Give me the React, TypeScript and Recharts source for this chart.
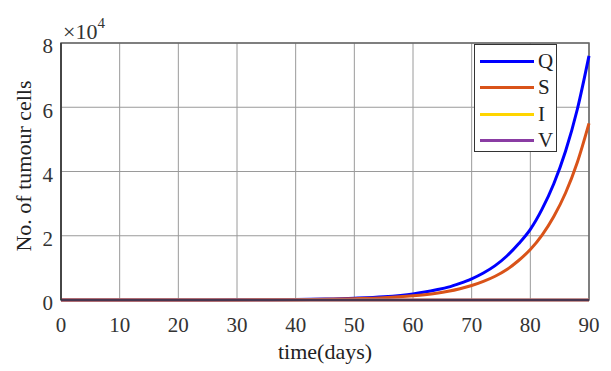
import { LineChart, Line, XAxis, YAxis, CartesianGrid, ReferenceArea } from "recharts";

const days = [0, 5, 10, 15, 20, 25, 30, 35, 40, 45, 50, 55, 60, 62, 64, 66, 68, 70, 72, 74, 76, 78, 80, 82, 84, 86, 88, 90];
const qCells = [1, 2, 4, 7, 12, 22, 45, 90, 160, 300, 560, 1000, 1900, 2500, 3200, 4000, 5200, 6600, 8400, 10700, 13700, 17500, 22000, 28300, 36200, 46300, 59300, 76000];
const sCells = [1, 1, 2, 4, 7, 13, 25, 55, 110, 200, 400, 700, 1300, 1650, 2100, 2700, 3500, 4500, 5800, 7400, 9500, 12300, 15700, 20200, 26000, 33300, 42800, 55000];
const iCells = days.map(() => 0);
const vCells = days.map(() => 0);

const xTicks = [0, 10, 20, 30, 40, 50, 60, 70, 80, 90];
const yTicks = [0, 20000, 40000, 60000, 80000];

const series = [
  { key: "Q", color: "#0000ff" },
  { key: "S", color: "#d95319" },
  { key: "I", color: "#ffd500" },
  { key: "V", color: "#8a3ca3" },
];

const data = days.map((t, i) => ({ t, Q: qCells[i], S: sCells[i], I: iCells[i], V: vCells[i] }));

const font = "'Liberation Serif', 'Times New Roman', serif";
const tickStyle = { fill: "#333", fontSize: 21, fontFamily: font };

// legend drawn outside the chart so it doesn't eat plot space
const LegendBox = () => (
  <div style={{ position: "absolute", top: 44, left: 474, width: 83, height: 108, border: "1.5px solid #333", background: "#fff", paddingTop: 3, boxSizing: "border-box" }}>
    {series.map((s) => (
      <div key={s.key} style={{ display: "flex", alignItems: "center", height: 26.5 }}>
        <div style={{ width: 54, height: 3, background: s.color, marginLeft: 5, marginRight: 4 }} />
        <span style={{ fontFamily: font, fontSize: 21, color: "#222", lineHeight: 1 }}>{s.key}</span>
      </div>
    ))}
  </div>
);

const YLabel = () => (
  <text x={23} y={166} transform="rotate(-90 23 166)" textAnchor="middle" dominantBaseline="central" fontFamily={font} fontSize={22} fill="#222">
    No. of tumour cells
  </text>
);

const App = () => {
  return (
    <div style={{ position: "absolute", top: 0, left: 0, width: 611, height: 371, background: "#fff" }}>
      <LineChart width={611} height={371} data={data} margin={{ top: 43, right: 22, bottom: 0, left: 0 }}>
        <CartesianGrid stroke="#9a9a9a" strokeWidth={1} />
        <ReferenceArea x1={0} x2={90} y1={0} y2={80000} fill="none" stroke="#666" strokeWidth={1.5} />
        <XAxis
          dataKey="t"
          type="number"
          domain={[0, 90]}
          ticks={xTicks}
          height={71}
          tickSize={6}
          tickLine={false}
          tickMargin={11}
          axisLine={{ stroke: "#333", strokeWidth: 1.5 }}
          tick={tickStyle}
          label={{ value: "time(days)", position: "insideBottom", offset: 12, fontFamily: font, fontSize: 22, fill: "#222" }}
        />
        <YAxis
          type="number"
          domain={[0, 80000]}
          ticks={yTicks}
          width={61}
          tickSize={0}
          tickLine={false}
          tickMargin={8}
          axisLine={{ stroke: "#333", strokeWidth: 1.5 }}
          tick={{ ...tickStyle, dy: 3 }}
          tickFormatter={(v: number) => `${v / 10000}`}
          label={<YLabel />}
        />
        {series.map((s) => (
          <Line key={s.key} type="monotone" dataKey={s.key} stroke={s.color} strokeWidth={3} dot={false} isAnimationActive={false} />
        ))}
      </LineChart>
      <LegendBox />
      <div style={{ position: "absolute", top: 19, left: 63, fontFamily: font, fontSize: 22, color: "#333", lineHeight: 1 }}>
        ×10<sup style={{ fontSize: 15, position: "relative", top: -3 }}>4</sup>
      </div>
    </div>
  );
};

export default App;
